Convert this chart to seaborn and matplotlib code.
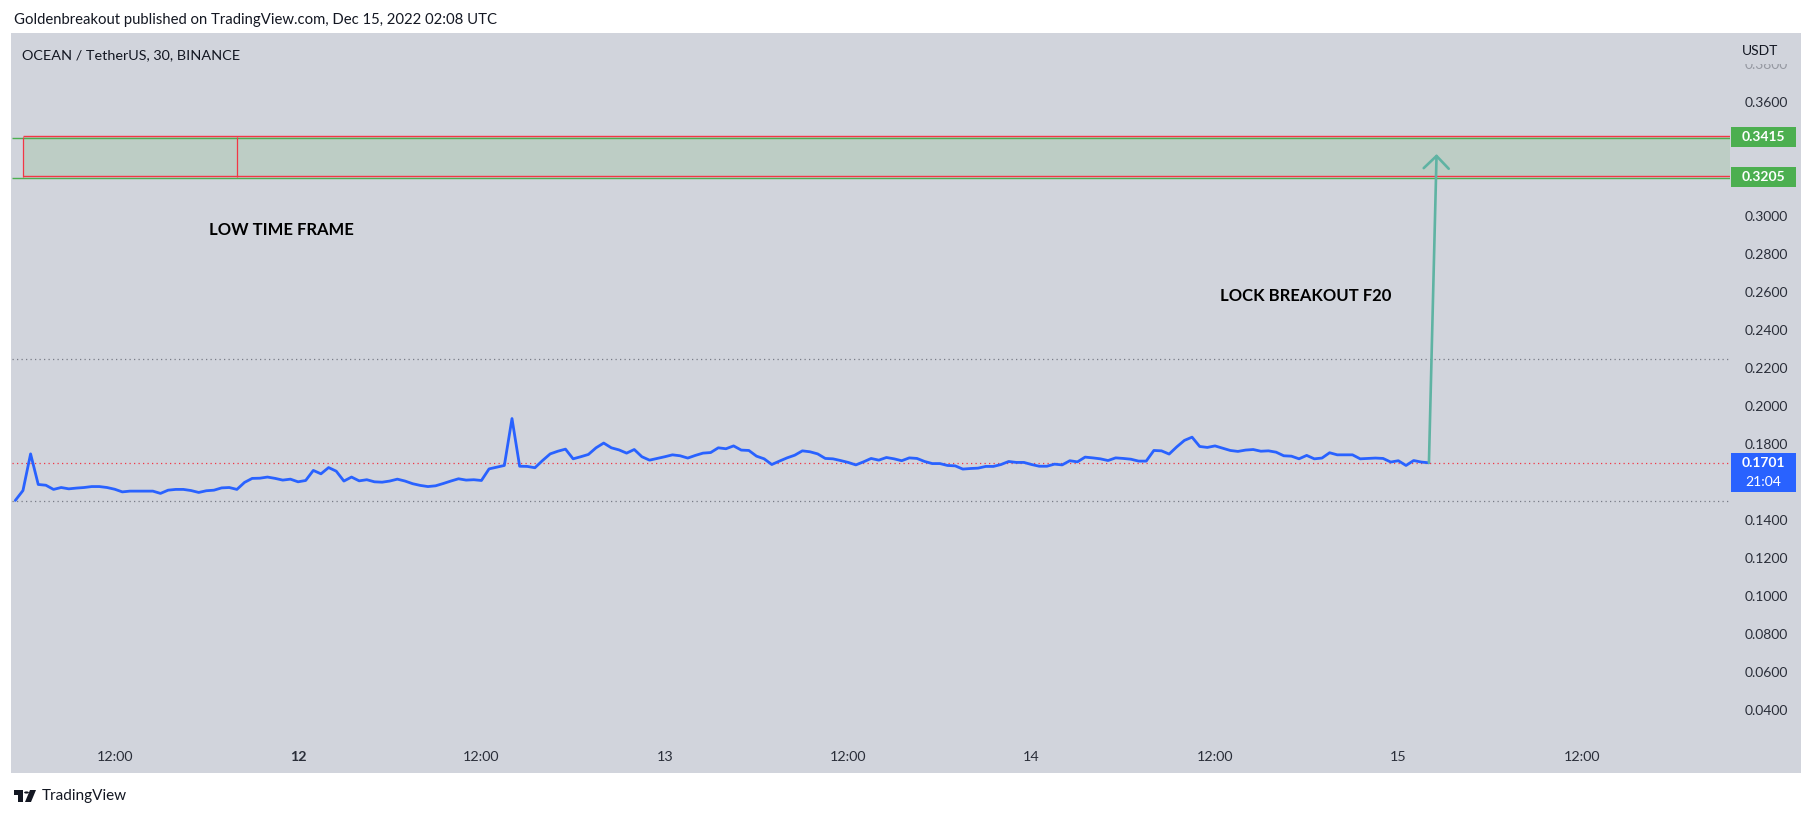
import matplotlib
matplotlib.use("Agg")
import matplotlib.pyplot as plt
import matplotlib.dates as mdates
import matplotlib.transforms as mtransforms
from matplotlib.patches import Rectangle, Circle, Polygon
import numpy as np
import pandas as pd
import seaborn as sns

# ---------------- data (30-minute closes, OCEAN/USDT) ----------------
close_part1 = [0.1503, 0.1555, 0.1748, 0.1587, 0.1583, 0.1561, 0.1571, 0.1564, 0.1568, 0.1571,
               0.1576, 0.1576, 0.1571, 0.1562, 0.1548, 0.1552, 0.1552, 0.1552, 0.1552, 0.1540,
               0.1557, 0.1561, 0.1561, 0.1555, 0.1545, 0.1554, 0.1557, 0.1569, 0.1571, 0.1561,
               0.1598, 0.1619, 0.1620, 0.1626, 0.1619, 0.1610, 0.1615, 0.1601, 0.1608, 0.1661,
               0.1643, 0.1676, 0.1657, 0.1605, 0.1626, 0.1606, 0.1612, 0.1601, 0.1599, 0.1605,
               0.1615, 0.1605, 0.1591, 0.1582, 0.1576, 0.1580, 0.1592, 0.1605, 0.1617, 0.1610,
               0.1612]
close_part2 = [0.1608, 0.1669, 0.1678, 0.1687, 0.1934, 0.1683, 0.1682, 0.1675, 0.1713, 0.1748,
               0.1762, 0.1773, 0.1722, 0.1733, 0.1745, 0.1780, 0.1805, 0.1780, 0.1769, 0.1752,
               0.1771, 0.1733, 0.1715, 0.1724, 0.1733, 0.1743, 0.1738, 0.1726, 0.1740, 0.1752,
               0.1755, 0.1780, 0.1775, 0.1790, 0.1768, 0.1766, 0.1736, 0.1722, 0.1692, 0.1710,
               0.1727, 0.1741, 0.1764, 0.1759, 0.1748, 0.1724, 0.1722, 0.1713, 0.1703, 0.1690,
               0.1706, 0.1724, 0.1715, 0.1729, 0.1722, 0.1712, 0.1727, 0.1724, 0.1708, 0.1697,
               0.1697]
close_part3 = [0.1687, 0.1685, 0.1668, 0.1671, 0.1673, 0.1682, 0.1682, 0.1692, 0.1708, 0.1703,
               0.1703, 0.1692, 0.1683, 0.1683, 0.1694, 0.1690, 0.1712, 0.1706, 0.1731, 0.1727,
               0.1722, 0.1713, 0.1727, 0.1724, 0.1720, 0.1710, 0.1710, 0.1766, 0.1764, 0.1747,
               0.1785, 0.1819, 0.1836, 0.1787, 0.1782, 0.1790, 0.1778, 0.1766, 0.1761, 0.1768,
               0.1771, 0.1762, 0.1764, 0.1757, 0.1738, 0.1736, 0.1722, 0.1740, 0.1722, 0.1726,
               0.1754, 0.1743, 0.1743, 0.1743, 0.1722, 0.1724, 0.1726, 0.1724, 0.1705, 0.1712,
               0.1687, 0.1713, 0.1705, 0.1701]
first_bar = "2022-12-11 05:30"

zone_top = 0.3415
zone_bottom = 0.3205
zone_start = "2022-12-11 06:00"
zone_inner_edge = "2022-12-11 20:00"
level_upper = 0.2250
level_lower = 0.1500
last_price = 0.1701
countdown = "21:04"
arrow_tip_time = "2022-12-15 02:30"
arrow_tip_price = 0.3326

# price-scale labels that are visible (others sit under the price badges)
y_ticks = [0.04, 0.06, 0.08, 0.10, 0.12, 0.14, 0.18, 0.20, 0.22, 0.24,
           0.26, 0.28, 0.30, 0.36, 0.38]
x_tick_times = ["2022-12-11 12:00", "2022-12-12 00:00", "2022-12-12 12:00",
                "2022-12-13 00:00", "2022-12-13 12:00", "2022-12-14 00:00",
                "2022-12-14 12:00", "2022-12-15 00:00", "2022-12-15 12:00"]
x_tick_labels = ["12:00", "12", "12:00", "13", "12:00", "14", "12:00", "15", "12:00"]

header = "Goldenbreakout published on TradingView.com, Dec 15, 2022 02:08 UTC"
symbol_title = "OCEAN / TetherUS, 30, BINANCE"
note_left = "LOW TIME FRAME"
note_right = "LOCK BREAKOUT F20"

# ---------------- styling ----------------
sns.set_style("white")
plt.rcParams["font.family"] = ["Lato", "DejaVu Sans"]

W, H = 1814, 818
BG = "#d1d4dc"
TXT = "#131722"
BLUE = "#2962ff"
GREEN = "#4caf50"
RED = "#f23645"
GREY = "#787b86"
TEAL = "#5fb3a3"
ZONE = "#bdcdc5"

def FX(x):
    return x / W

def FY(y):
    return 1 - y / H

fig = plt.figure(figsize=(W / 100, H / 100), dpi=100)
fig.patch.set_facecolor("white")

# chart panel background
fig.add_artist(Rectangle((FX(11), FY(773)), FX(1801) - FX(11), FY(33) - FY(773),
                         transform=fig.transFigure, facecolor=BG, edgecolor="none", zorder=-5))

ax = fig.add_axes([FX(12), FY(745), FX(1730) - FX(12), FY(34) - FY(745)])
ax.set_facecolor(BG)
for s in ax.spines.values():
    s.set_visible(False)

closes = close_part1 + close_part2 + close_part3
times = pd.date_range(first_bar, periods=len(closes), freq="30min")
df = pd.DataFrame({"time": times, "close": closes})

view_start = pd.Timestamp("2022-12-11 05:17")
view_end = pd.Timestamp("2022-12-15 21:42")

# zone box
zs = pd.Timestamp(zone_start)
ax.fill_between([zs, view_end], zone_bottom, zone_top, color=ZONE, linewidth=0, zorder=1)
up = mtransforms.offset_copy(ax.transData, fig=fig, x=0, y=0.7, units="dots")
dn = mtransforms.offset_copy(ax.transData, fig=fig, x=0, y=-0.7, units="dots")
ax.hlines([zone_top, zone_bottom], view_start, view_end, color=GREEN, lw=1.0, transform=dn, zorder=2)
ax.hlines([zone_top, zone_bottom], zs, view_end, color=RED, lw=1.0, transform=up, zorder=3)
ax.vlines([zs, pd.Timestamp(zone_inner_edge)], zone_bottom, zone_top, color=RED, lw=0.9, zorder=3)

# dotted levels
ax.axhline(level_upper, color=GREY, ls=(0, (1, 2.6)), lw=0.9, zorder=2)
ax.axhline(level_lower, color=GREY, ls=(0, (1, 2.6)), lw=0.9, zorder=2)
ax.axhline(last_price, color=RED, ls=(0, (1, 2.6)), lw=0.9, zorder=2)

sns.lineplot(data=df, x="time", y="close", ax=ax, color=BLUE, linewidth=2.0, zorder=5)

# arrow
ax.annotate("", xy=(mdates.date2num(pd.Timestamp(arrow_tip_time)), arrow_tip_price),
            xytext=(mdates.date2num(times[-1]), closes[-1]),
            arrowprops=dict(arrowstyle="->,head_length=0.45,head_width=0.45",
                            color=TEAL, lw=1.9, shrinkA=0, shrinkB=0, mutation_scale=20),
            zorder=6)

ax.set_xlim(view_start, view_end)
ax.set_ylim(0.02158, 0.39579)
ax.set_xlabel("")
ax.set_ylabel("")

ax.yaxis.tick_right()
ax.set_yticks(y_ticks)
ax.set_yticklabels([f"{v:.4f}" for v in y_ticks])
ax.tick_params(axis="y", length=0, pad=41.5, labelsize=10, labelcolor="#2a2e39")
for lab in ax.get_yticklabels():
    lab.set_horizontalalignment("right")
ax.get_yticklabels()[-1].set_color("#9598a1")

ax.set_xticks(pd.to_datetime(x_tick_times))
ax.set_xticklabels(x_tick_labels)
ax.tick_params(axis="x", length=0, pad=4, labelsize=10.3, labelcolor="#2a2e39")
ax.get_xticklabels()[1].set_fontweight("bold")
ax.grid(False)

# mask top of clipped price label, then currency label
fig.add_artist(Rectangle((FX(1733), FY(64)), FX(1800) - FX(1733), FY(38) - FY(64),
                         transform=fig.transFigure, facecolor=BG, edgecolor="none", zorder=3))
fig.text(FX(1760), FY(51), "USDT", ha="center", va="center", fontsize=10, color=TXT, zorder=4)

# price badges
def ypix(v):
    return H - ax.transData.transform((0, v))[1]

def badge(v, text, color, top_off=-10, height=20):
    yc = ypix(v)
    fig.add_artist(Rectangle((FX(1731), FY(yc + top_off + height)), FX(1796) - FX(1731),
                             height / H, transform=fig.transFigure, facecolor=color,
                             edgecolor="none", zorder=4))
    fig.text(FX(1763.5), FY(yc), text, ha="center", va="center", fontsize=10,
             color="white", fontweight="bold", zorder=5)
    return yc

badge(zone_top, f"{zone_top:.4f}", GREEN)
badge(zone_bottom, f"{zone_bottom:.4f}", GREEN)
yc = badge(last_price, f"{last_price:.4f}", BLUE, top_off=-10, height=39)
fig.text(FX(1763.5), FY(yc + 19), countdown, ha="center", va="center", fontsize=10,
         color="white", zorder=5)

# texts on chart
fig.text(FX(281), FY(230), note_left, ha="center", va="center", fontsize=12,
         color="black", fontweight="bold")
fig.text(FX(1306), FY(296), note_right, ha="center", va="center", fontsize=12,
         color="black", fontweight="bold")

# header texts
fig.text(FX(14), FY(20), header, ha="left", va="center", fontsize=10.7, color=TXT)
fig.text(FX(22), FY(55), symbol_title, ha="left", va="center", fontsize=10.4, color=TXT)

# TradingView logo and name
fig.add_artist(Rectangle((FX(14), FY(795)), FX(23) - FX(14), 5 / H, transform=fig.transFigure,
                         facecolor=TXT, edgecolor="none"))
fig.add_artist(Rectangle((FX(18), FY(802)), FX(23) - FX(18), 12 / H, transform=fig.transFigure,
                         facecolor=TXT, edgecolor="none"))
fig.add_artist(Circle((FX(26.5), FY(792.5)), 2.4 / W, transform=fig.transFigure,
                      facecolor=TXT, edgecolor="none"))
fig.add_artist(Polygon([(FX(30), FY(790)), (FX(36), FY(790)), (FX(31), FY(802)), (FX(25), FY(802))],
                       closed=True, transform=fig.transFigure, facecolor=TXT, edgecolor="none"))
fig.text(FX(42), FY(796), "TradingView", ha="left", va="center", fontsize=11, color=TXT)

fig.savefig("out.png", dpi=100, facecolor="white")
